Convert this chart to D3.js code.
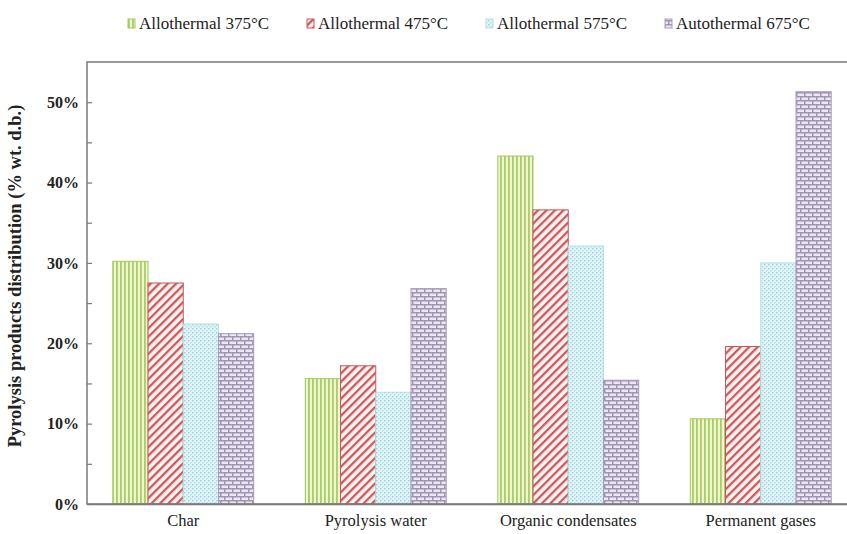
<!DOCTYPE html>
<html><head><meta charset="utf-8">
<script src="https://cdn.jsdelivr.net/npm/d3@7"></script>
<style>body{margin:0;background:#fff}svg{display:block}</style>
</head><body>
<svg id="c" width="847" height="534"></svg>
<script>
const categories = ["Char", "Pyrolysis water", "Organic condensates", "Permanent gases"];
const seriesNames = ["Allothermal 375°C", "Allothermal 475°C", "Allothermal 575°C", "Autothermal 675°C"];
const s375 = [0.302, 0.156, 0.433, 0.106];
const s475 = [0.275, 0.172, 0.366, 0.196];
const s575 = [0.224, 0.139, 0.321, 0.300];
const s675 = [0.212, 0.268, 0.154, 0.513];
const yTicks = [0, 0.1, 0.2, 0.3, 0.4, 0.5];
const yMinorTicks = [0.05, 0.15, 0.25, 0.35, 0.45];
const yTitle = "Pyrolysis products distribution (% wt. d.b.)";

const seriesValues = [s375, s475, s575, s675];
const svg = d3.select("#c");
const serif = "'Liberation Serif','Times New Roman',serif";
const M = {left: 87, top: 62, right: 857, bottom: 504};

// patterns
const defs = svg.append("defs");
const p1 = defs.append("pattern").attr("id","p0").attr("patternUnits","userSpaceOnUse").attr("width",4).attr("height",4);
p1.append("rect").attr("width",4).attr("height",4).attr("fill","#eef6cf");
p1.append("rect").attr("x",0).attr("width",1.8).attr("height",4).attr("fill","#abcc66");
const p2 = defs.append("pattern").attr("id","p1").attr("patternUnits","userSpaceOnUse").attr("width",6).attr("height",6).attr("patternTransform","rotate(45)");
p2.append("rect").attr("width",6).attr("height",6).attr("fill","#fcf1f1");
p2.append("rect").attr("width",2.3).attr("height",6).attr("fill","#c65c5e");
const p3 = defs.append("pattern").attr("id","p2").attr("patternUnits","userSpaceOnUse").attr("width",4).attr("height",4);
p3.append("rect").attr("width",4).attr("height",4).attr("fill","#def4f7");
p3.append("rect").attr("x",0).attr("y",0).attr("width",1.4).attr("height",1.4).attr("fill","#9fcfd8");
p3.append("rect").attr("x",2).attr("y",2).attr("width",1.4).attr("height",1.4).attr("fill","#b3dbe2");
const p4 = defs.append("pattern").attr("id","p3").attr("patternUnits","userSpaceOnUse").attr("width",8).attr("height",8);
p4.append("rect").attr("width",8).attr("height",8).attr("fill","#ebe7f3");
p4.append("rect").attr("y",0).attr("width",8).attr("height",1.5).attr("fill","#a095b3");
p4.append("rect").attr("y",4).attr("width",8).attr("height",1.5).attr("fill","#a095b3");
p4.append("rect").attr("x",0).attr("y",0).attr("width",1.5).attr("height",4).attr("fill","#a095b3");
p4.append("rect").attr("x",4).attr("y",4).attr("width",1.5).attr("height",4).attr("fill","#a095b3");
const strokes = ["#a7c760", "#c4585a", "#b6dfe6", "#a79cba"];

const x0 = d3.scaleBand().domain(categories).range([M.left, M.right]).paddingInner(0.268).paddingOuter(0.134);
const x1 = d3.scaleBand().domain(d3.range(seriesNames.length)).range([0, x0.bandwidth()]);
const y = d3.scaleLinear().domain([0, 0.55]).range([M.bottom, M.top]);

// bars
categories.forEach((cat, ci) => {
  seriesValues.forEach((vals, si) => {
    svg.append("rect")
      .attr("x", x0(cat) + x1(si))
      .attr("y", y(vals[ci]))
      .attr("width", x1.bandwidth())
      .attr("height", y(0) - y(vals[ci]))
      .attr("fill", `url(#p${si})`)
      .attr("stroke", strokes[si]).attr("stroke-width", 1);
  });
});

// frame
svg.append("path").attr("d", `M${M.left},${M.bottom}V${M.top}H${M.right}V${M.bottom}Z`)
  .attr("fill","none").attr("stroke","#7a7a7a").attr("stroke-width",1.5);

// y axis
const yAxis = svg.append("g").attr("transform", `translate(${M.left},0)`)
  .call(d3.axisLeft(y).tickValues(yTicks).tickFormat(d3.format(".0%")).tickSizeInner(-5).tickSizeOuter(0).tickPadding(8));
yAxis.select(".domain").remove();
yAxis.selectAll("line").attr("stroke","#7a7a7a").attr("stroke-width",1.2);
yAxis.selectAll("text").attr("font-family", serif).attr("font-size", 16).attr("font-weight","bold").attr("fill","#222");
const yMinor = svg.append("g").attr("transform", `translate(${M.left},0)`)
  .call(d3.axisLeft(y).tickValues(yMinorTicks).tickFormat("").tickSizeInner(-5).tickSizeOuter(0));
yMinor.select(".domain").remove();
yMinor.selectAll("line").attr("stroke","#7a7a7a").attr("stroke-width",1.2);

// x axis
const xAxis = svg.append("g").attr("transform", `translate(0,${M.bottom})`)
  .call(d3.axisBottom(x0).tickSize(0).tickPadding(10));
xAxis.select(".domain").attr("stroke","#7a7a7a").attr("stroke-width",1.5);
xAxis.selectAll("text").attr("font-family", serif).attr("font-size", 16.5).attr("fill","#222");

// y title
svg.append("text").attr("transform","translate(21,276) rotate(-90)")
  .attr("text-anchor","middle").attr("font-family", serif).attr("font-size",18.5).attr("font-weight","bold").attr("fill","#222")
  .text(yTitle);

// legend
const lg = svg.append("g");
seriesNames.forEach((name, i) => {
  const gx = 128 + i * 179;
  lg.append("rect").attr("x", gx).attr("y", 19).attr("width", 7).attr("height", 9)
    .attr("fill", `url(#p${i})`).attr("stroke", strokes[i]).attr("stroke-width", 1);
  lg.append("text").attr("x", gx + 11).attr("y", 29)
    .attr("font-family", serif).attr("font-size", 17).attr("fill","#222").text(name);
});
</script>
</body></html>
